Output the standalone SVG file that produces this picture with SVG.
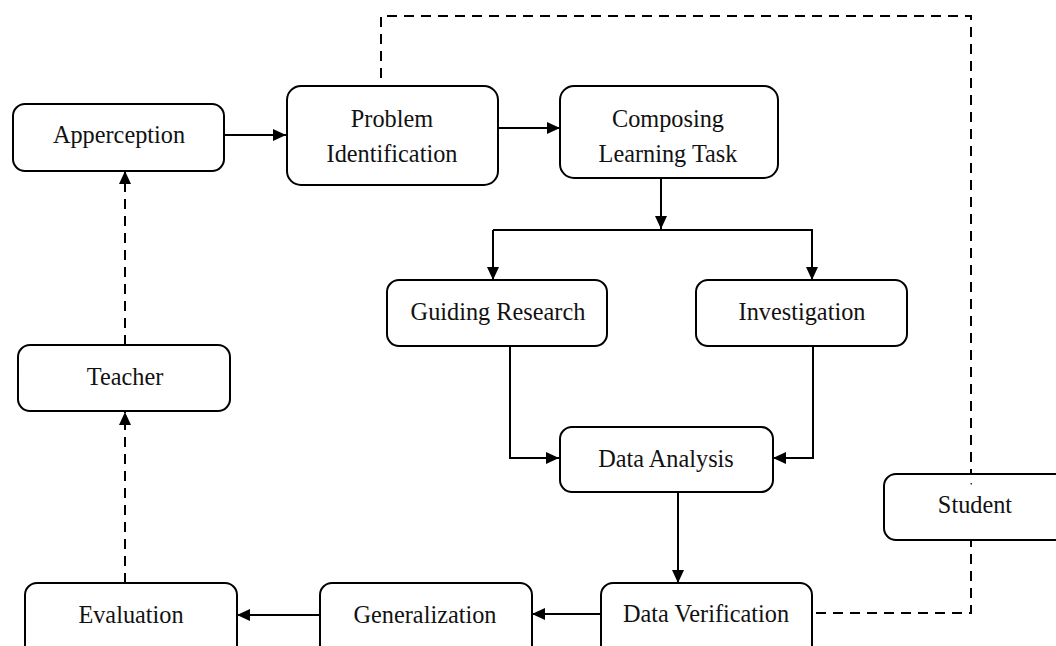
<svg xmlns="http://www.w3.org/2000/svg" width="1056" height="646" viewBox="0 0 1056 646">
<style>
.box{fill:#fff;stroke:#000;stroke-width:2}
.lbl{font-family:"Liberation Serif","Times New Roman",serif;font-size:26px;fill:#111;text-anchor:middle}
.ln{fill:none;stroke:#000;stroke-width:2}
.dash{fill:none;stroke:#000;stroke-width:2;stroke-dasharray:10,7}
</style>
<defs>
<marker id="ah" viewBox="0 0 13 12" refX="13" refY="6" markerWidth="13" markerHeight="12" markerUnits="userSpaceOnUse" orient="auto">
<path d="M0,0 L13,6 L0,12 Z" fill="#000"/>
</marker>
</defs>
<rect width="1056" height="646" fill="#fff"/>
<g id="connectors">
<line class="ln" x1="224" y1="135" x2="286" y2="135" marker-end="url(#ah)"/>
<line class="ln" x1="498" y1="128" x2="560" y2="128" marker-end="url(#ah)"/>
<line class="ln" x1="661" y1="178" x2="661" y2="229" marker-end="url(#ah)"/>
<line class="ln" x1="493" y1="230" x2="813" y2="230"/>
<line class="ln" x1="493" y1="230" x2="493" y2="280" marker-end="url(#ah)"/>
<line class="ln" x1="812" y1="230" x2="812" y2="280" marker-end="url(#ah)"/>
<polyline class="ln" points="510,345 510,458 559,458" marker-end="url(#ah)"/>
<polyline class="ln" points="813,345 813,458 773,458" marker-end="url(#ah)"/>
<line class="ln" x1="678" y1="492" x2="678" y2="583" marker-end="url(#ah)"/>
<line class="ln" x1="601" y1="614" x2="532" y2="614" marker-end="url(#ah)"/>
<line class="ln" x1="320" y1="615" x2="237" y2="615" marker-end="url(#ah)"/>
<line class="dash" x1="125" y1="583" x2="125" y2="412" marker-end="url(#ah)"/>
<line class="dash" x1="125" y1="345" x2="125" y2="171" marker-end="url(#ah)"/>
<polyline class="dash" points="816,613 971,613 971,16 381,16 381,78"/>
</g>
<g id="apperception"><rect class="box" x="13" y="104" width="211" height="67" rx="12"/><text class="lbl" transform="matrix(0.935 0 0 1 119 143)">Apperception</text></g>
<g id="problem-identification"><rect class="box" x="287" y="86" width="211" height="99" rx="14"/><text class="lbl" transform="matrix(0.935 0 0 1 392 127)">Problem</text><text class="lbl" transform="matrix(0.935 0 0 1 392 162)">Identification</text></g>
<g id="composing-learning-task"><rect class="box" x="560" y="86" width="218" height="92" rx="14"/><text class="lbl" transform="matrix(0.935 0 0 1 668 127)">Composing</text><text class="lbl" transform="matrix(0.935 0 0 1 668 162)">Learning Task</text></g>
<g id="guiding-research"><rect class="box" x="387" y="280" width="220" height="66" rx="12"/><text class="lbl" transform="matrix(0.935 0 0 1 498 320)">Guiding Research</text></g>
<g id="investigation"><rect class="box" x="696" y="280" width="211" height="66" rx="12"/><text class="lbl" transform="matrix(0.935 0 0 1 802 320)">Investigation</text></g>
<g id="data-analysis"><rect class="box" x="560" y="427" width="213" height="65" rx="12"/><text class="lbl" transform="matrix(0.935 0 0 1 666 467)">Data Analysis</text></g>
<g id="student"><rect class="box" x="884" y="474" width="190" height="66" rx="12"/><rect x="970.5" y="483" width="1.5" height="1.5" fill="#333"/><text class="lbl" transform="matrix(0.935 0 0 1 975 513)">Student</text></g>
<g id="teacher"><rect class="box" x="18" y="345" width="212" height="66" rx="12"/><text class="lbl" transform="matrix(0.935 0 0 1 125 385)">Teacher</text></g>
<g id="data-verification"><rect class="box" x="601" y="583" width="211" height="80" rx="12"/><text class="lbl" transform="matrix(0.935 0 0 1 706 622)">Data Verification</text></g>
<g id="generalization"><rect class="box" x="320" y="583" width="212" height="80" rx="12"/><text class="lbl" transform="matrix(0.935 0 0 1 425 623)">Generalization</text></g>
<g id="evaluation"><rect class="box" x="25" y="583" width="212" height="80" rx="12"/><text class="lbl" transform="matrix(0.935 0 0 1 131 623)">Evaluation</text></g>
</svg>
